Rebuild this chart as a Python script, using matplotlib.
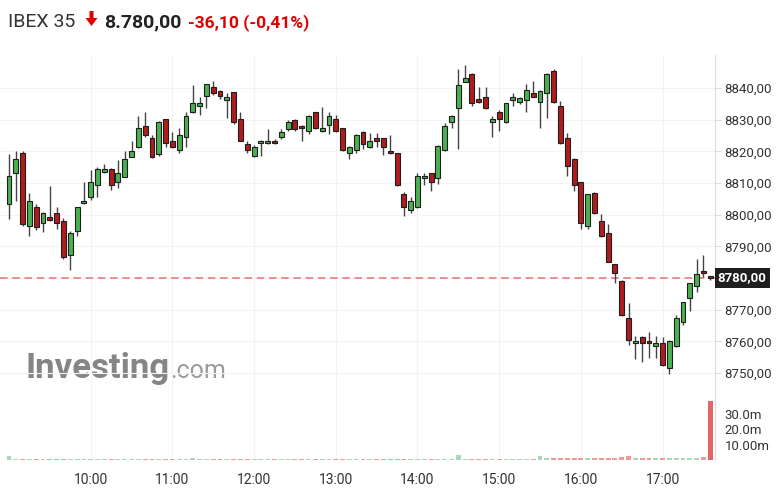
import matplotlib

matplotlib.use("Agg")
import matplotlib.pyplot as plt
from matplotlib.patches import Polygon
from matplotlib.transforms import blended_transform_factory
import numpy as np

plt.rcParams["font.family"] = ["Roboto", "DejaVu Sans"]

# 5-minute candles, 09:00 .. 17:35
opens = [8803.4, 8813.3, 8819.4, 8796.4, 8802.5, 8797.3, 8799.4, 8800.4, 8798.1, 8787.3,
         8795.0, 8803.6, 8805.5, 8809.4, 8813.4, 8814.4, 8810.2, 8812.0, 8818.3, 8821.3,
         8828.1, 8824.1, 8819.1, 8830.1, 8823.4, 8820.4, 8824.4, 8832.3, 8834.4, 8837.5,
         8840.2, 8839.0, 8836.2, 8838.6, 8830.1, 8822.2, 8818.5, 8822.5, 8822.5, 8823.4,
         8824.4, 8827.0, 8829.9, 8828.1, 8826.4, 8832.3, 8826.4, 8828.4, 8830.2, 8827.3,
         8819.4, 8820.4, 8826.0, 8821.3, 8824.1, 8824.1, 8820.2, 8819.4, 8806.4, 8801.5,
         8802.3, 8811.5, 8813.1, 8811.5, 8820.4, 8829.2, 8833.6, 8842.0, 8844.3, 8836.5,
         8837.2, 8829.1, 8832.3, 8829.1, 8836.2, 8835.5, 8836.2, 8838.3, 8835.5, 8838.3,
         8845.2, 8834.4, 8824.1, 8817.6, 8810.2, 8796.4, 8807.0, 8798.1, 8794.1, 8784.3,
         8779.2, 8767.3, 8759.4, 8761.5, 8760.1, 8758.5, 8759.4, 8751.5, 8758.5, 8766.2,
         8773.6, 8777.5, 8782.3, 8780.1]
highs = [8819.2, 8820.2, 8820.2, 8807.0, 8803.4, 8800.9, 8809.0, 8802.3, 8799.1, 8795.0,
         8802.5, 8810.2, 8814.1, 8815.2, 8816.0, 8814.8, 8817.3, 8820.2, 8823.3, 8831.0,
         8832.3, 8825.0, 8829.6, 8830.3, 8826.0, 8827.3, 8832.3, 8841.0, 8837.0, 8841.4,
         8842.3, 8839.3, 8838.5, 8838.8, 8832.3, 8823.3, 8822.0, 8823.5, 8827.0, 8823.8,
         8827.0, 8829.9, 8830.1, 8828.3, 8831.5, 8832.5, 8834.1, 8832.3, 8831.5, 8827.5,
         8821.8, 8825.5, 8826.4, 8825.7, 8825.9, 8824.3, 8825.2, 8819.6, 8807.3, 8805.7,
         8813.1, 8813.1, 8813.3, 8822.0, 8828.8, 8831.4, 8846.0, 8847.3, 8844.8, 8840.2,
         8840.2, 8831.0, 8833.0, 8835.4, 8838.3, 8837.2, 8841.2, 8842.2, 8839.3, 8844.6,
         8846.0, 8836.0, 8825.9, 8818.0, 8810.4, 8806.6, 8807.2, 8800.2, 8797.0, 8784.5,
         8779.4, 8772.2, 8761.8, 8761.7, 8763.0, 8761.8, 8761.5, 8760.3, 8768.3, 8772.5,
         8778.5, 8785.9, 8787.3, 8780.1]
lows = [8798.5, 8804.4, 8796.5, 8793.4, 8795.2, 8794.4, 8798.0, 8795.4, 8786.0, 8782.5,
        8793.4, 8803.4, 8804.6, 8805.7, 8813.2, 8807.8, 8808.5, 8811.8, 8818.1, 8821.1,
        8824.6, 8818.0, 8818.6, 8821.5, 8821.1, 8819.4, 8821.3, 8832.1, 8831.5, 8833.6,
        8837.8, 8836.4, 8830.4, 8828.6, 8823.1, 8819.4, 8818.3, 8818.6, 8822.3, 8822.3,
        8823.9, 8826.4, 8826.4, 8823.4, 8825.5, 8827.1, 8826.2, 8825.5, 8826.0, 8820.2,
        8817.6, 8819.4, 8820.6, 8821.1, 8821.4, 8818.8, 8819.2, 8809.2, 8799.7, 8800.4,
        8802.1, 8809.4, 8807.6, 8809.6, 8820.2, 8827.3, 8820.6, 8841.8, 8834.4, 8835.3,
        8833.4, 8824.4, 8826.4, 8828.9, 8834.4, 8835.0, 8832.5, 8837.1, 8827.3, 8830.4,
        8835.3, 8822.3, 8812.3, 8807.6, 8795.4, 8795.4, 8800.2, 8793.1, 8785.0, 8778.3,
        8768.1, 8758.8, 8754.6, 8753.4, 8754.8, 8754.8, 8752.3, 8749.6, 8758.3, 8765.2,
        8769.7, 8775.7, 8780.4, 8779.4]
closes = [8812.3, 8817.6, 8797.0, 8804.4, 8796.2, 8800.4, 8798.3, 8797.3, 8786.5, 8794.1,
          8802.5, 8804.3, 8810.3, 8814.4, 8814.4, 8809.4, 8813.0, 8817.6, 8820.2, 8827.3,
          8825.2, 8818.3, 8829.4, 8822.5, 8821.3, 8825.2, 8831.3, 8835.2, 8835.4, 8841.2,
          8838.3, 8837.5, 8837.3, 8829.2, 8823.3, 8820.4, 8821.3, 8823.4, 8823.4, 8822.5,
          8826.2, 8829.4, 8827.0, 8827.3, 8831.3, 8827.3, 8827.3, 8831.3, 8826.4, 8820.4,
          8821.3, 8825.2, 8822.2, 8823.3, 8823.1, 8821.3, 8819.4, 8809.4, 8802.3, 8804.4,
          8812.3, 8812.3, 8810.2, 8821.7, 8828.1, 8831.2, 8840.9, 8843.0, 8835.4, 8835.5,
          8833.6, 8830.1, 8830.2, 8835.2, 8837.3, 8836.7, 8839.2, 8837.3, 8839.1, 8844.4,
          8835.5, 8822.5, 8815.4, 8809.4, 8797.3, 8806.4, 8800.4, 8793.3, 8785.2, 8781.5,
          8768.3, 8760.4, 8760.2, 8759.4, 8759.4, 8759.4, 8752.5, 8760.1, 8767.3, 8772.3,
          8778.3, 8781.2, 8781.5, 8780.0]
# volume in millions
volumes = [2.5, 0.6, 0.7, 0.6, 0.5, 0.6, 0.5, 0.5, 0.7, 0.6,
           0.5, 0.5, 0.5, 0.4, 0.4, 0.5, 0.4, 0.5, 0.5, 0.6,
           0.5, 0.6, 0.5, 0.5, 0.4, 0.5, 0.6, 1.2, 0.6, 0.5,
           0.6, 0.5, 0.5, 0.7, 0.6, 0.6, 0.5, 0.5, 0.5, 0.4,
           0.5, 0.5, 0.6, 0.5, 0.5, 0.6, 0.5, 0.5, 0.6, 0.7,
           0.5, 0.5, 0.6, 0.5, 0.5, 0.6, 0.5, 0.8, 0.7, 0.6,
           0.7, 0.5, 0.6, 0.7, 0.8, 0.7, 3.0, 0.9, 0.8, 0.7,
           0.6, 0.6, 0.6, 0.7, 0.6, 0.6, 0.7, 0.7, 2.8, 1.0,
           1.5, 1.4, 1.3, 1.2, 1.5, 1.0, 1.1, 1.0, 1.2, 1.4,
           1.8, 2.6, 1.6, 1.5, 1.2, 1.0, 1.4, 1.2, 1.0, 1.2,
           1.1, 1.3, 1.7, 38.0]
hour_labels = ["10:00", "11:00", "12:00", "13:00", "14:00", "15:00", "16:00", "17:00"]
price_ticks = [8750, 8760, 8770, 8780, 8790, 8800, 8810, 8820, 8830, 8840]
vol_ticks = [10, 20, 30]
vol_tick_labels = ["10.00m", "20.0m", "30.0m"]
last_price = 8780.0

GREEN = "#4caf50"
RED = "#b01c1c"
EDGE = "#1e1e1e"

fig = plt.figure(figsize=(7.8, 4.96), dpi=100)
ax = fig.add_axes([0.0, 1 - 388 / 496, 715 / 780, 333 / 496])
axv = fig.add_axes([0.0, 1 - 460 / 496, 715 / 780, 72 / 496], sharex=ax)

x = np.arange(len(opens))
o, h, l, c = map(np.array, (opens, highs, lows, closes))
up = c >= o
colors = np.where(up, GREEN, RED)

ax.vlines(x, l, h, color="#444444", linewidth=1.0, zorder=2)
body_lo = np.minimum(o, c)
body_h = np.maximum(np.abs(c - o), 0.7)
ax.bar(x, body_h, bottom=body_lo, width=0.72, color=colors, edgecolor=EDGE,
       linewidth=0.8, zorder=3)

ax.axhline(last_price, color="#e57373", linestyle=(0, (5, 3)), linewidth=1.1, zorder=1)
ax.set_xlim(-1.32, 103.7)
ax.set_ylim(8745.3, 8850.4)

for a in (ax, axv):
    for s in ("left", "top", "bottom"):
        a.spines[s].set_visible(False)
    a.spines["right"].set_color("#dddddd")
    a.yaxis.tick_right()
    a.set_axisbelow(True)

ax.grid(True, color="#f3f3f3", linewidth=0.8)
axv.grid(True, axis="x", color="#f3f3f3", linewidth=0.8)

ax.spines["bottom"].set_visible(True)
ax.spines["bottom"].set_color("#cccccc")
ax.set_yticks(price_ticks)
# the 8780 label is hidden under the last-price tag
ax.set_yticklabels(["" if p == last_price else f"{p},00" for p in price_ticks])
ax.tick_params(axis="y", length=4, color="#dddddd", pad=3, labelsize=9.5,
               labelcolor="#333333")
ax.tick_params(axis="x", length=0, labelbottom=False)

# last price tag
trans = blended_transform_factory(ax.transAxes, ax.transData)
ax.text(1.004, last_price, "8780,00", transform=trans, ha="left", va="center",
        fontsize=9.5, fontweight="bold", color="white", zorder=5, clip_on=False,
        bbox=dict(boxstyle="square,pad=0.25", facecolor="#1e1e1e", edgecolor="none"))

# volume
vcol = np.where(up, "#a8d8b9", "#ec9a9a")
vcol[-1] = "#e06666"
axv.bar(x, volumes, width=0.72, color=vcol, zorder=2)
axv.set_ylim(0, 46.5)
axv.set_yticks(vol_ticks)
axv.set_yticklabels(vol_tick_labels)
axv.tick_params(axis="y", length=0, pad=7, labelsize=9.5, labelcolor="#333333")
axv.set_xticks(np.arange(12, 97, 12))
axv.set_xticklabels(hour_labels)
axv.tick_params(axis="x", length=0, pad=9, labelsize=10, labelcolor="#333333")

# watermark: "Investing" then ".com" placed right after it
wm_y = (388 - 378) / 333
wm = ax.text(25 / 715, wm_y, "Investing", transform=ax.transAxes,
             fontsize=25, fontweight="bold", color="#707070", alpha=0.85,
             ha="left", va="baseline", zorder=0)
fig.canvas.draw()
wm_right = wm.get_window_extent().x1
com_x = ax.transAxes.inverted().transform((wm_right + 1, 0))[0]
ax.text(com_x, wm_y, ".com", transform=ax.transAxes,
        fontsize=18, color="#8a8a8a", alpha=0.85, ha="left", va="baseline", zorder=0)

# header
fig.text(8 / 780, 1 - 27 / 496, "IBEX 35", fontsize=14, color="#333333",
         ha="left", va="baseline")
arrow = [(89.5, 11), (93.5, 11), (93.5, 18), (97.5, 18), (91.5, 26), (85.5, 18), (89.5, 18)]
fig.patches.append(Polygon([(px / 780, 1 - py / 496) for px, py in arrow], closed=True,
                           transform=fig.transFigure, facecolor="#e00000",
                           edgecolor="none"))
fig.text(104 / 780, 1 - 27 / 496, "8.780,00", fontsize=14, fontweight="bold",
         color="#222222", ha="left", va="baseline")
fig.text(188 / 780, 1 - 27 / 496, "-36,10 (-0,41%)", fontsize=12.5, fontweight="bold",
         color="#e00000", ha="left", va="baseline")

fig.savefig("out.png", dpi=100)
